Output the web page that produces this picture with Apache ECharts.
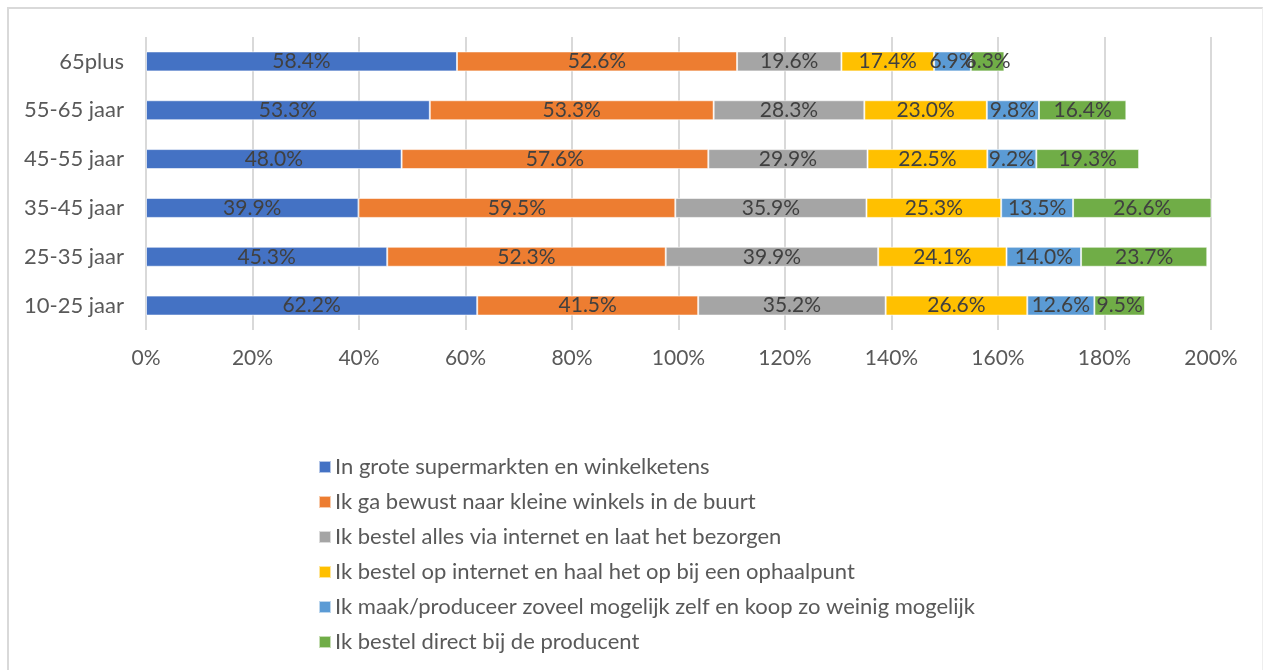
<!DOCTYPE html>
<html>
<head>
<meta charset="utf-8">
<script src="https://cdn.jsdelivr.net/npm/echarts@6/dist/echarts.min.js"></script>
<style>
  html, body { margin: 0; padding: 0; background: #fff; }
  #frame {
    position: absolute; left: 7px; top: 7px; width: 1256px; height: 680px;
    border-left: 2px solid #d9d9d9; border-top: 2px solid #d9d9d9; border-right: 1px solid #eeeeee;
    box-sizing: border-box;
  }
  #chart { position: absolute; left: 0; top: 0; width: 1266px; height: 670px; }
</style>
</head>
<body>
<div id="frame"></div>
<div id="chart"></div>
<script>
// age groups, bottom to top as on the axis
const categories = ['10-25 jaar', '25-35 jaar', '35-45 jaar', '45-55 jaar', '55-65 jaar', '65plus'];

const seriesNames = [
  'In grote supermarkten en winkelketens',
  'Ik ga bewust naar kleine winkels in de buurt',
  'Ik bestel alles via internet en laat het bezorgen',
  'Ik bestel op internet en haal het op bij een ophaalpunt',
  'Ik maak/produceer zoveel mogelijk zelf en koop zo weinig mogelijk',
  'Ik bestel direct bij de producent'
];

const supermarkten = [62.2, 45.3, 39.9, 48.0, 53.3, 58.4];
const kleineWinkels = [41.5, 52.3, 59.5, 57.6, 53.3, 52.6];
const bezorgen = [35.2, 39.9, 35.9, 29.9, 28.3, 19.6];
const ophaalpunt = [26.6, 24.1, 25.3, 22.5, 23.0, 17.4];
const zelfMaken = [12.6, 14.0, 13.5, 9.2, 9.8, 6.9];
const producent = [9.5, 23.7, 26.6, 19.3, 16.4, 6.3];

const xTicks = { min: 0, max: 200, interval: 20 };

const colors = ['#4472C4', '#ED7D31', '#A5A5A5', '#FFC000', '#5B9BD5', '#70AD47'];
const allData = [supermarkten, kleineWinkels, bezorgen, ophaalpunt, zelfMaken, producent];

const font = 'Lato, "Open Sans", sans-serif';

const chart = echarts.init(document.getElementById('chart'));

chart.setOption({
  animation: false,
  color: colors,
  textStyle: { fontFamily: font },
  grid: { left: 146, right: 55, top: 37, bottom: 340 },
  xAxis: {
    type: 'value',
    min: xTicks.min,
    max: xTicks.max,
    interval: xTicks.interval,
    axisLine: { show: false },
    axisTick: { show: false },
    axisLabel: { formatter: '{value}%', color: '#595959', fontSize: 21, margin: 18, fontFamily: font },
    splitLine: { lineStyle: { color: '#d9d9d9', width: 2 } }
  },
  yAxis: {
    type: 'category',
    data: categories,
    axisLine: { show: false },
    axisTick: { show: false },
    axisLabel: { color: '#595959', fontSize: 22, margin: 22, fontFamily: font }
  },
  legend: {
    orient: 'vertical',
    left: 313,
    top: 451,
    itemWidth: 12,
    itemHeight: 12,
    itemGap: 13,
    icon: 'rect',
    textStyle: { color: '#595959', fontSize: 22, padding: [0, 0, 0, -1], fontFamily: font },
    data: seriesNames
  },
  series: seriesNames.map((name, i) => ({
    name: name,
    type: 'bar',
    stack: 'total',
    barWidth: 20,
    data: allData[i],
    itemStyle: { borderColor: 'rgba(255,255,255,0.6)', borderWidth: 1 },
    label: {
      show: true,
      position: 'inside',
      color: '#404040',
      fontSize: 21,
      fontFamily: font,
      formatter: p => p.value.toFixed(1) + '%'
    }
  }))
});
</script>
</body>
</html>
